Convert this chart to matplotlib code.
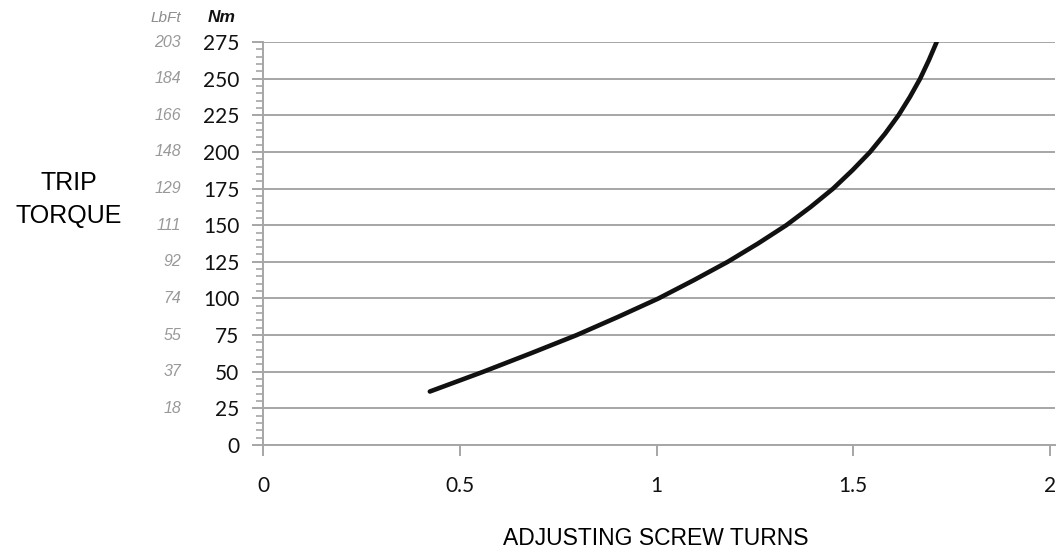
import matplotlib
matplotlib.use("Agg")
import matplotlib.pyplot as plt
from matplotlib.ticker import MultipleLocator

# Data
turns = [0.424, 0.56, 0.68, 0.797, 0.903, 1.005, 1.095, 1.181, 1.258, 1.330,
         1.392, 1.449, 1.498, 1.543, 1.581, 1.615, 1.644, 1.670, 1.692, 1.712]
torque_nm = [36.5, 50, 62.5, 75, 87.5, 100, 112.5, 125, 137.5, 150,
             162.5, 175, 187.5, 200, 212.5, 225, 237.5, 250, 262.5, 275]
nm_ticks = [0, 25, 50, 75, 100, 125, 150, 175, 200, 225, 250, 275]
lbft_labels = ["18", "37", "55", "74", "92", "111", "129", "148", "166", "184", "203"]
lbft_pos = [25, 50, 75, 100, 125, 150, 175, 200, 225, 250, 275]
x_ticks = [0, 0.5, 1, 1.5, 2]
x_tick_labels = ["0", "0.5", "1", "1.5", "2"]

W, H = 1057, 552
fig = plt.figure(figsize=(W/100, H/100), dpi=100)
ax = fig.add_axes([263/W, 107/H, (1055-263)/W, (445-42)/H])

grid_c = "#a6a6a6"
ax.set_xlim(0, 2 * (1055-263) / (1050-263))
ax.set_ylim(0, 275)
for v in nm_ticks:
    ax.axhline(v, color=grid_c, lw=1.4, zorder=1)

ax.plot(turns, torque_nm, color="#111111", lw=3.3, solid_capstyle="round",
        solid_joinstyle="round", zorder=3)

for s in ["top", "right"]:
    ax.spines[s].set_visible(False)
for s in ["left", "bottom"]:
    ax.spines[s].set_color(grid_c)
    ax.spines[s].set_linewidth(1.4)

ax.set_yticks(nm_ticks)
ax.set_yticklabels([str(v) for v in nm_ticks])
ax.yaxis.set_minor_locator(MultipleLocator(5))
ax.tick_params(axis="y", which="major", direction="out", length=8, width=1.4,
               color=grid_c, pad=9, labelsize=15)
ax.tick_params(axis="y", which="minor", direction="out", length=5, width=1.2, color=grid_c)

ax.set_xticks(x_ticks)
ax.set_xticklabels(x_tick_labels)
ax.tick_params(axis="x", which="major", direction="out", length=8, width=1.4,
               color=grid_c, pad=14, labelsize=15)
for lab in ax.get_xticklabels() + ax.get_yticklabels():
    lab.set_fontfamily("Lato")
    lab.set_color("#111111")

x_lb = (181 - 263) / ((1050 - 263) / 2)
for p, l in zip(lbft_pos, lbft_labels):
    ax.text(x_lb, p, l, ha="right", va="center", fontsize=11.5, style="italic",
            color="#999999", family="Liberation Sans", clip_on=False)

fig.text(181/W, 1 - 22/H, "LbFt", ha="right", va="baseline", fontsize=11,
         style="italic", color="#8c8c8c", family="Liberation Sans")
fig.text(222/W, 1 - 22/H, "Nm", ha="center", va="baseline", fontsize=12.5,
         style="italic", weight="bold", color="#111111", family="Liberation Sans")

fig.text(69/W, 1 - 190/H, "TRIP", ha="center", va="baseline", fontsize=18,
         family="Liberation Sans", color="black")
fig.text(69/W, 1 - 223/H, "TORQUE", ha="center", va="baseline", fontsize=18,
         family="Liberation Sans", color="black")
fig.text(656/W, 1 - 545/H, "ADJUSTING SCREW TURNS", ha="center", va="baseline",
         fontsize=16.5, family="Liberation Sans", color="black")

fig.savefig("out.png", dpi=100)
